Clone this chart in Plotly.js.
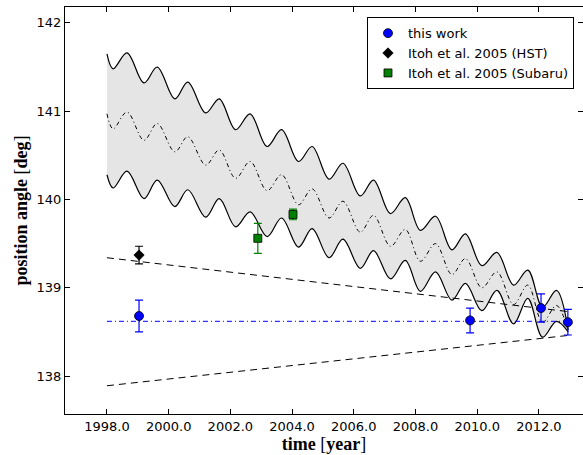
<!DOCTYPE html>
<html><head><meta charset="utf-8">
<script src="https://cdn.plot.ly/plotly-3.0.1.min.js"></script>
<style>html,body{margin:0;padding:0;background:#fff}#chart{width:583px;height:455px}</style>
</head><body><div id="chart"></div>
<script>
// Model band: extreme points
const bandYears = [1998.0, 1998.2, 1998.65, 1999.2, 1999.63, 2000.2, 2000.62, 2001.2, 2001.64, 2002.17, 2002.64, 2003.19, 2003.66, 2004.21, 2004.65, 2005.2, 2005.65, 2006.21, 2006.64, 2007.19, 2007.67, 2008.16, 2008.65, 2009.18, 2009.62, 2010.15, 2010.64, 2011.18, 2011.64, 2012.12, 2012.57, 2012.95];
const upperPA = [141.65, 141.48, 141.66, 141.32, 141.50, 141.14, 141.33, 140.98, 141.14, 140.79, 140.97, 140.60, 140.79, 140.43, 140.60, 140.23, 140.41, 140.04, 140.22, 139.84, 140.02, 139.65, 139.81, 139.43, 139.61, 139.25, 139.40, 139.03, 139.20, 138.78, 138.97, 138.52];
const lowerPA = [140.28, 140.13, 140.32, 140.01, 140.22, 139.92, 140.11, 139.80, 140.01, 139.69, 139.86, 139.58, 139.79, 139.46, 139.67, 139.34, 139.55, 139.22, 139.42, 139.10, 139.31, 138.96, 139.18, 138.86, 139.05, 138.74, 138.97, 138.59, 138.88, 138.44, 138.62, 138.50];
const meanPA = [140.97, 140.80, 140.99, 140.67, 140.86, 140.54, 140.71, 140.39, 140.56, 140.24, 140.43, 140.10, 140.28, 139.94, 140.12, 139.79, 139.98, 139.63, 139.82, 139.47, 139.66, 139.30, 139.50, 139.15, 139.33, 139.00, 139.18, 138.81, 139.03, 138.61, 138.80, 138.51];

// Straight reference lines
const lineYears = [1998.0, 2012.95];
const dashUpperPA = [139.34, 138.73];
const dashLowerPA = [137.89, 138.46];
const constPA = [138.62, 138.62];

// Measurements
const workYears = [1999.04, 2009.77, 2012.07, 2012.94];
const workPA = [138.68, 138.63, 138.77, 138.61];
const workErr = [0.18, 0.14, 0.16, 0.145];
const hstYears = [1999.04];
const hstPA = [139.37];
const hstErr = [0.10];
const subaruYears = [2002.89, 2004.03];
const subaruPA = [139.56, 139.83];
const subaruErr = [0.17, 0.06];

// Ticks
const xTickVals = [1998, 2000, 2002, 2004, 2006, 2008, 2010, 2012];
const xTickText = ['1998.0', '2000.0', '2002.0', '2004.0', '2006.0', '2008.0', '2010.0', '2012.0'];
const yTickVals = [138, 139, 140, 141, 142];
const yTickText = ['138', '139', '140', '141', '142'];

const blue = 'rgb(0,0,255)';
const green = 'rgb(0,128,0)';

const traces = [
  {x: bandYears, y: lowerPA, mode: 'lines', line: {color: 'black', width: 1.2, shape: 'spline'}, showlegend: false, hoverinfo: 'skip'},
  {x: bandYears, y: upperPA, mode: 'lines', fill: 'tonexty', fillcolor: 'rgb(229,229,229)', line: {color: 'black', width: 1.2, shape: 'spline'}, showlegend: false, hoverinfo: 'skip'},
  {x: bandYears, y: meanPA, mode: 'lines', line: {color: 'black', width: 1, shape: 'spline', dash: '4px,3px,1px,3px'}, showlegend: false},
  {x: lineYears, y: dashUpperPA, mode: 'lines', line: {color: 'black', width: 1, dash: '7px,5px'}, showlegend: false},
  {x: lineYears, y: dashLowerPA, mode: 'lines', line: {color: 'black', width: 1, dash: '7px,5px'}, showlegend: false},
  {x: lineYears, y: constPA, mode: 'lines', line: {color: blue, width: 1, dash: '5px,3px,1px,3px'}, showlegend: false},
  {x: workYears, y: workPA, mode: 'markers', name: 'this work',
   marker: {symbol: 'circle', size: 9, color: blue, line: {color: 'black', width: 0.8}},
   error_y: {type: 'data', array: workErr, color: blue, thickness: 1.2, width: 4}},
  {x: hstYears, y: hstPA, mode: 'markers', name: 'Itoh et al. 2005 (HST)',
   marker: {symbol: 'diamond', size: 8, color: 'black', line: {color: 'black', width: 0.8}},
   error_y: {type: 'data', array: hstErr, color: 'black', thickness: 1.2, width: 4}},
  {x: subaruYears, y: subaruPA, mode: 'markers', name: 'Itoh et al. 2005 (Subaru)',
   marker: {symbol: 'square', size: 8, color: green, line: {color: 'black', width: 0.8}},
   error_y: {type: 'data', array: subaruErr, color: green, thickness: 1.2, width: 4}}
];

const axisCommon = {
  showline: true, linecolor: 'black', linewidth: 1, mirror: 'ticks',
  ticks: 'inside', ticklen: 5, tickcolor: 'black', tickwidth: 1,
  showgrid: false, zeroline: false,
  tickfont: {family: 'DejaVu Sans', size: 13, color: 'black'}
};

const layout = {
  width: 583, height: 455,
  paper_bgcolor: 'white', plot_bgcolor: 'white',
  margin: {l: 65, r: 0, t: 7, b: 41},
  xaxis: Object.assign({}, axisCommon, {
    range: [1996.64, 2013.43], tickvals: xTickVals, ticktext: xTickText,
    title: {text: '<b>time</b> [<b>year</b>]', font: {family: 'Liberation Serif', size: 18, color: 'black'}, standoff: 2}
  }),
  yaxis: Object.assign({}, axisCommon, {
    range: [137.57, 142.18], tickvals: yTickVals, ticktext: yTickText,
    title: {text: '<b>position angle</b> [<b>deg</b>]', font: {family: 'Liberation Serif', size: 18, color: 'black'}, standoff: 4}
  }),
  legend: {
    x: 0.9826, xanchor: 'right', y: 0.975, yanchor: 'top', traceorder: 'normal',
    bgcolor: 'white', bordercolor: 'black', borderwidth: 1,
    font: {family: 'DejaVu Sans', size: 13, color: 'black'}
  },
  showlegend: true
};

Plotly.newPlot('chart', traces, layout, {displayModeBar: false, staticPlot: true});
</script>
</body></html>
